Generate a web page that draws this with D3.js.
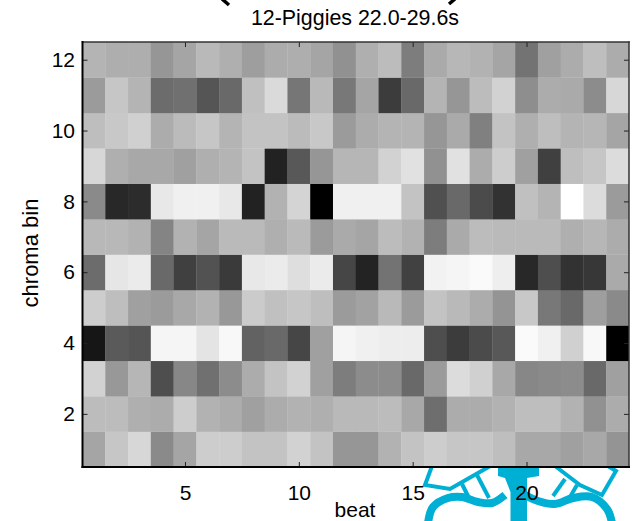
<!DOCTYPE html>
<html>
<head>
<meta charset="utf-8">
<script src="https://cdn.jsdelivr.net/npm/d3@7"></script>
<style>
  html, body { margin: 0; padding: 0; background: #fff; }
  svg { display: block; }
  text { font-family: "Liberation Sans", Arial, sans-serif; fill: #000; }
</style>
</head>
<body>
<script>
const beats = d3.range(1, 25);
const bins = d3.range(1, 13);
const xTicks = [5, 10, 15, 20];
const yTicks = [2, 4, 6, 8, 10, 12];

// grey level of each cell, one array per chroma bin
const bin1  = [165,198,215,138,165,205,205,195,195,210,195,150,150,178,195,205,198,198,190,168,168,160,168,148];
const bin2  = [188,188,175,172,205,178,172,160,172,178,175,185,185,188,168,110,172,172,178,190,190,178,145,172];
const bin3  = [210,152,182,78,135,112,140,172,195,210,160,125,140,140,105,155,220,208,168,135,138,140,105,160];
const bin4  = [22,90,85,245,245,228,248,98,105,70,160,245,240,237,237,78,60,75,88,250,240,208,248,0];
const bin5  = [205,190,160,155,168,178,152,203,192,198,190,155,162,185,155,195,185,172,148,200,120,105,158,138];
const bin6  = [108,230,235,105,64,82,58,232,235,222,235,70,35,115,65,242,245,250,238,40,78,50,55,170];
const bin7  = [184,184,178,132,178,165,186,186,175,186,155,170,165,188,178,125,170,188,186,186,186,175,182,172];
const bin8  = [138,40,44,232,240,240,232,34,178,212,0,240,240,240,195,80,105,75,50,192,180,255,220,155];
const bin9  = [215,175,168,168,160,175,180,195,34,88,150,182,182,210,225,145,225,172,205,160,64,190,198,220];
const bin10 = [190,200,208,172,187,198,180,195,195,187,200,155,172,180,180,150,170,128,195,175,190,180,182,165];
const bin11 = [155,198,180,108,112,85,105,192,218,118,185,120,165,60,105,180,150,188,210,142,172,170,140,215];
const bin12 = [180,174,174,150,165,185,175,158,172,174,165,145,175,188,125,170,183,178,165,115,160,172,190,172];
const grid = [bin1, bin2, bin3, bin4, bin5, bin6, bin7, bin8, bin9, bin10, bin11, bin12];

const width = 634, height = 521;
const plot = { left: 82.5, right: 629, top: 42, bottom: 467 };

const svg = d3.select("body").append("svg")
    .attr("width", width)
    .attr("height", height);

const x = d3.scaleLinear().domain([0.5, 24.5]).range([plot.left, plot.right]);
const y = d3.scaleLinear().domain([0.5, 12.5]).range([plot.bottom, plot.top]);
const grey = d3.scaleLinear().domain([0, 255]).range(["#000", "#fff"]);

// logo peeking out under the axes, drawn first so the tick labels sit on top
const logo = svg.append("g").attr("fill", "none").attr("stroke", "#00afd4");
const curve = d3.line().curve(d3.curveCatmullRom);
const thin = [
  [[432,466],[425,485],[450,489],[478,473],[492,465]],
  [[462,484],[468,496]],
  [[477,475],[489,498]],
  [[555,466],[580,485],[602,495],[616,471],[608,466]],
  [[565,479],[553,496]],
  [[577,485],[570,497]]
];
thin.forEach(p => logo.append("path")
    .attr("d", d3.line()(p))
    .attr("stroke-width", 4)
    .attr("stroke-linejoin", "miter"));
const thick = [
  [[428,523],[433,507],[448,498],[462,497],[478,502],[492,503],[505,495]],
  [[525,495],[538,501],[555,504],[573,498],[592,497],[607,509],[612,523]]
];
thick.forEach(p => logo.append("path")
    .attr("d", curve(p))
    .attr("stroke-width", 8));
logo.append("path")
    .attr("d", "M498,466H539V476L527,478V521H510.500V492L505,478L498,476Z")
    .attr("fill", "#00afd4")
    .attr("stroke", "none");

// cells
const cells = [];
grid.forEach((row, r) => row.forEach((v, c) => cells.push({ beat: beats[c], bin: bins[r], v })));
svg.append("g").selectAll("rect")
  .data(cells)
  .join("rect")
    .attr("x", d => x(d.beat - 0.5))
    .attr("y", d => y(d.bin + 0.5))
    .attr("width", x(2) - x(1) + 0.3)
    .attr("height", y(1) - y(2) + 0.3)
    .attr("fill", d => grey(d.v));
// trim overdraw at the right edge
svg.append("rect").attr("x", plot.right).attr("y", plot.top - 1).attr("width", 2).attr("height", plot.bottom - plot.top + 2).attr("fill", "#fff");

// ticks, inside the box on all four sides
const tickLen = 5;
const styleTicks = g => {
  g.select(".domain").remove();
  g.selectAll("line").attr("stroke", "#222").attr("stroke-width", 1);
};
svg.append("g").attr("transform", `translate(0,${plot.bottom})`)
    .call(d3.axisBottom(x).tickValues(xTicks).tickSizeInner(-tickLen).tickPadding(tickLen + 13).tickSizeOuter(0))
    .call(styleTicks);
svg.append("g").attr("transform", `translate(${plot.left},0)`)
    .call(d3.axisLeft(y).tickValues(yTicks).tickSizeInner(-tickLen).tickPadding(tickLen + 2.5).tickSizeOuter(0))
    .call(styleTicks);
svg.append("g").attr("transform", `translate(0,${plot.top})`)
    .call(d3.axisTop(x).tickValues(xTicks).tickSizeInner(-tickLen).tickFormat("").tickSizeOuter(0))
    .call(styleTicks);
svg.append("g").attr("transform", `translate(${plot.right},0)`)
    .call(d3.axisRight(y).tickValues(yTicks).tickSizeInner(-tickLen).tickFormat("").tickSizeOuter(0))
    .call(styleTicks);
svg.selectAll("g.tick text")
    .style("font-family", '"Liberation Sans", Arial, sans-serif')
    .style("font-size", "21px")
    .attr("fill", "#000");

// box: heavier on the left and bottom
const box = svg.append("g").attr("stroke-linecap", "square");
box.append("line").attr("x1", plot.left).attr("x2", plot.right).attr("y1", plot.top).attr("y2", plot.top)
    .attr("stroke", "#333").attr("stroke-width", 1.5);
box.append("line").attr("x1", plot.right).attr("x2", plot.right).attr("y1", plot.top).attr("y2", plot.bottom)
    .attr("stroke", "#333").attr("stroke-width", 1.5);
box.append("line").attr("x1", plot.left).attr("x2", plot.right).attr("y1", plot.bottom).attr("y2", plot.bottom)
    .attr("stroke", "#000").attr("stroke-width", 2);
box.append("line").attr("x1", plot.left).attr("x2", plot.left).attr("y1", plot.top).attr("y2", plot.bottom)
    .attr("stroke", "#000").attr("stroke-width", 2);

// labels
svg.append("text").attr("x", 355).attr("y", 25).attr("text-anchor", "middle")
    .style("font-size", "21.4px").text("12-Piggies 22.0-29.6s");
svg.append("text").attr("x", 355).attr("y", 516.5).attr("text-anchor", "middle")
    .style("font-size", "21px").text("beat");
svg.append("text").attr("transform", "translate(37.500,253) rotate(-90)").attr("text-anchor", "middle")
    .style("font-size", "22px").text("chroma bin");

// cut-off ends of the big title above the picture
const cut = svg.append("g").attr("stroke", "#000").attr("stroke-width", 3.5).attr("fill", "none");
cut.append("path").attr("d", "M222,-1L229,5");
cut.append("path").attr("d", "M455,-1L449,4");
</script>
</body>
</html>
